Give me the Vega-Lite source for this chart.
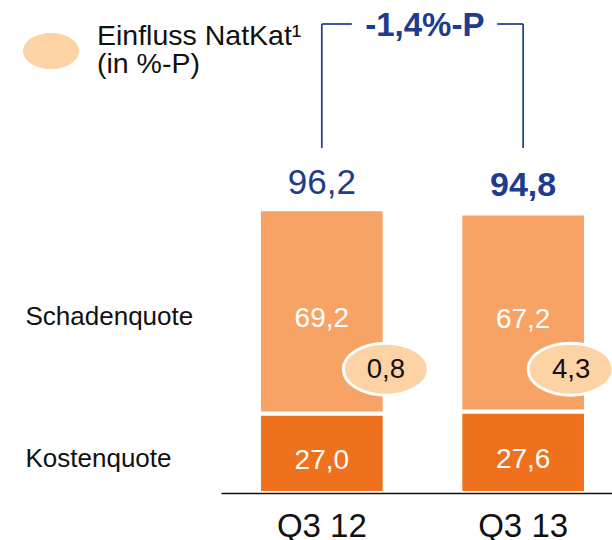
{
  "$schema": "https://vega.github.io/schema/vega-lite/v6.json",
  "width": 391,
  "height": 493,
  "autosize": {"type": "none"},
  "padding": {"left": 221, "top": 0, "right": 0, "bottom": 47},
  "background": "white",
  "config": {
    "view": {"stroke": null},
    "font": "Liberation Sans",
    "text": {"font": "Liberation Sans"},
    "style": {"guide-label": {"lineHeight": 27.5}},
    "locale": {"number": {"decimal": ",", "thousands": ".", "grouping": [3], "currency": ["", " €"]}}
  },
  "datasets": {
    "bars": [
      {"quarter": "Q3 12", "component": "Kostenquote", "value": 27.0},
      {"quarter": "Q3 12", "component": "Schadenquote", "value": 69.2},
      {"quarter": "Q3 13", "component": "Kostenquote", "value": 27.6},
      {"quarter": "Q3 13", "component": "Schadenquote", "value": 67.2}
    ],
    "totals": [
      {"quarter": "Q3 12", "total": 96.2},
      {"quarter": "Q3 13", "total": 94.8}
    ],
    "natkat": [
      {"quarter": "Q3 12", "natkat": 0.8, "series": "Einfluss NatKat"},
      {"quarter": "Q3 13", "natkat": 4.3, "series": "Einfluss NatKat"}
    ],
    "delta": [
      {"from": "Q3 12", "to": "Q3 13", "label": "-1,4%-P"}
    ]
  },
  "layer": [
    {
      "data": {"name": "bars"},
      "mark": {"type": "bar", "stroke": "white", "strokeWidth": 4},
      "encoding": {
        "x": {
          "field": "quarter", "type": "nominal",
          "scale": {"type": "band", "domain": ["Q3 12", "Q3 13"], "paddingInner": 0.3757, "paddingOuter": 0.159, "align": 0.5935},
          "axis": {"title": null, "orient": "bottom", "domain": true, "domainColor": "#111111", "domainWidth": 1.5, "ticks": false, "tickSize": 0, "labelFont": "Liberation Sans", "labelFontSize": 33, "labelColor": "#111111", "labelPadding": 17, "labelAngle": 0, "zindex": 1, "grid": false}
        },
        "y": {
          "field": "value", "type": "quantitative", "stack": "zero",
          "scale": {"domain": [0, 167.2], "nice": false, "zero": true},
          "axis": {"title": null, "orient": "left", "domain": false, "ticks": false, "tickSize": 0, "grid": false, "values": [13.5, 61.6], "labelExpr": "datum.value < 30 ? 'Kostenquote' : 'Schadenquote'", "labelAlign": "left", "labelBaseline": "middle", "labelPadding": 196, "labelOffset": 5, "labelFont": "Liberation Sans", "labelFontSize": 26, "labelColor": "#111111", "labelLimit": 400}
        },
        "color": {"field": "component", "type": "nominal", "scale": {"domain": ["Kostenquote", "Schadenquote"], "range": ["#EF711D", "#F7A365"]}, "legend": null},
        "order": {"field": "component", "sort": "ascending"}
      }
    },
    {
      "data": {"name": "bars"},
      "transform": [
        {"stack": "value", "groupby": ["quarter"], "sort": [{"field": "component", "order": "ascending"}], "as": ["v0", "v1"]},
        {"calculate": "(datum.v0 + datum.v1) / 2", "as": "mid"}
      ],
      "mark": {"type": "text", "color": "white", "fontSize": 28, "baseline": "middle", "dy": 7.5},
      "encoding": {
        "x": {"field": "quarter", "type": "nominal"},
        "y": {"field": "mid", "type": "quantitative"},
        "text": {"field": "value", "type": "quantitative", "format": ".1f"}
      }
    },
    {
      "data": {"name": "totals"},
      "transform": [{"filter": "datum.quarter === 'Q3 12'"}],
      "mark": {"type": "text", "color": "#1D3C8E", "fontSize": 35, "baseline": "alphabetic", "dy": -15},
      "encoding": {
        "x": {"field": "quarter", "type": "nominal"},
        "y": {"field": "total", "type": "quantitative"},
        "text": {"field": "total", "type": "quantitative", "format": ".1f"}
      }
    },
    {
      "data": {"name": "totals"},
      "transform": [{"filter": "datum.quarter === 'Q3 13'"}],
      "mark": {"type": "text", "color": "#1D3C8E", "fontSize": 34, "fontWeight": "bold", "baseline": "alphabetic", "dy": -17.5},
      "encoding": {
        "x": {"field": "quarter", "type": "nominal"},
        "y": {"field": "total", "type": "quantitative"},
        "text": {"field": "total", "type": "quantitative", "format": ".1f"}
      }
    },
    {
      "data": {"name": "totals"},
      "mark": {"type": "rule", "color": "#26458F", "strokeWidth": 1.8},
      "encoding": {
        "x": {"field": "quarter", "type": "nominal"},
        "y": {"datum": 117, "type": "quantitative"},
        "y2": {"datum": 159.06}
      }
    },
    {
      "data": {"name": "delta"},
      "mark": {"type": "rule", "color": "#26458F", "strokeWidth": 1.8, "x2Offset": 30},
      "encoding": {
        "x": {"field": "from", "type": "nominal"},
        "x2": {"field": "from"},
        "y": {"datum": 159.06, "type": "quantitative"}
      }
    },
    {
      "data": {"name": "delta"},
      "mark": {"type": "rule", "color": "#26458F", "strokeWidth": 1.8, "xOffset": -26},
      "encoding": {
        "x": {"field": "to", "type": "nominal"},
        "x2": {"field": "to"},
        "y": {"datum": 159.06, "type": "quantitative"}
      }
    },
    {
      "data": {"name": "delta"},
      "mark": {"type": "text", "color": "#1D3C8E", "fontSize": 33, "fontWeight": "bold", "baseline": "middle", "xOffset": 103, "dy": 1.6},
      "encoding": {
        "x": {"field": "from", "type": "nominal"},
        "y": {"datum": 159.06, "type": "quantitative"},
        "text": {"field": "label"}
      }
    },
    {
      "data": {"name": "natkat"},
      "transform": [{"filter": "datum.quarter === 'Q3 12'"}],
      "mark": {"type": "point", "shape": "M-1,0A1,0.612,0,1,0,1,0A1,0.612,0,1,0,-1,0Z", "size": 7225, "filled": true, "opacity": 1, "stroke": "white", "strokeWidth": 3, "xOffset": 64},
      "encoding": {
        "x": {"field": "quarter", "type": "nominal"},
        "y": {"datum": 42, "type": "quantitative"},
        "fill": {
          "field": "series", "type": "nominal",
          "scale": {"range": ["#FDD3A6"]},
          "legend": {"orient": "none", "legendX": -198, "legendY": 23, "title": null, "padding": 0, "symbolType": "M-1,0A1,0.643,0,1,0,1,0A1,0.643,0,1,0,-1,0Z", "symbolSize": 3136, "symbolStrokeWidth": 0, "symbolOpacity": 1, "labelFont": "Liberation Sans", "labelFontSize": 28.5, "labelColor": "#111111", "labelLimit": 500, "labelOffset": 18, "labelBaseline": "bottom", "labelExpr": "['Einfluss NatKat¹', '(in %-P)']"}
        }
      }
    },
    {
      "data": {"name": "natkat"},
      "transform": [{"filter": "datum.quarter === 'Q3 13'"}],
      "mark": {"type": "point", "shape": "M-1,0A1,0.612,0,1,0,1,0A1,0.612,0,1,0,-1,0Z", "size": 7225, "filled": true, "opacity": 1, "stroke": "white", "strokeWidth": 3, "xOffset": 47.5},
      "encoding": {
        "x": {"field": "quarter", "type": "nominal"},
        "y": {"datum": 42, "type": "quantitative"},
        "fill": {"field": "series", "type": "nominal"}
      }
    },
    {
      "data": {"name": "natkat"},
      "transform": [{"filter": "datum.quarter === 'Q3 12'"}],
      "mark": {"type": "text", "color": "#111111", "fontSize": 27.5, "baseline": "middle", "xOffset": 64, "dy": 1},
      "encoding": {
        "x": {"field": "quarter", "type": "nominal"},
        "y": {"datum": 42, "type": "quantitative"},
        "text": {"field": "natkat", "type": "quantitative", "format": ".1f"}
      }
    },
    {
      "data": {"name": "natkat"},
      "transform": [{"filter": "datum.quarter === 'Q3 13'"}],
      "mark": {"type": "text", "color": "#111111", "fontSize": 27.5, "baseline": "middle", "xOffset": 48, "dy": 1},
      "encoding": {
        "x": {"field": "quarter", "type": "nominal"},
        "y": {"datum": 42, "type": "quantitative"},
        "text": {"field": "natkat", "type": "quantitative", "format": ".1f"}
      }
    }
  ]
}
